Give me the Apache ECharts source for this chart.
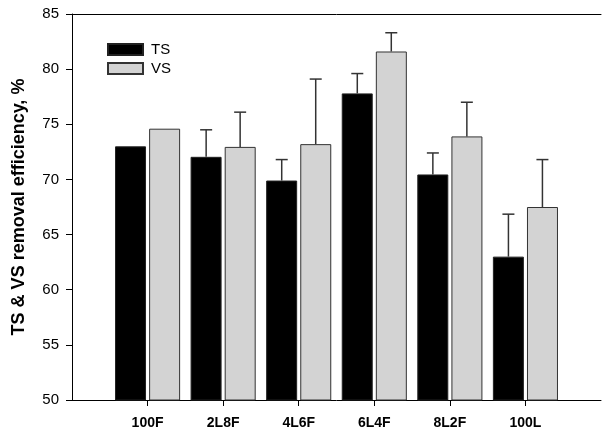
<!DOCTYPE html>
<html>
<head>
<meta charset="utf-8">
<script src="https://cdn.jsdelivr.net/npm/echarts@6/dist/echarts.min.js"></script>
<style>
  html, body { margin: 0; padding: 0; background: #fff; }
  #chart { width: 604px; height: 432px; }
</style>
</head>
<body>
<div id="chart"></div>
<script>
// data
const categories = ['100F', '2L8F', '4L6F', '6L4F', '8L2F', '100L']
const tsValues = [73.0, 72.05, 69.9, 77.8, 70.45, 63.0]
const vsValues = [74.6, 72.95, 73.2, 81.6, 73.9, 67.5]
// upper end of the error bars (null = no bar)
const tsErrTop = [null, 74.5, 71.8, 79.6, 72.4, 66.85]
const vsErrTop = [null, 76.1, 79.1, 83.3, 77.0, 71.8]
const yTicks = [50, 55, 60, 65, 70, 75, 80, 85]

function drawChart() {
    let box = document.querySelector('#chart')
    let myChart = echarts.init(box)

    // pad with an empty slot at each end so the groups sit like the original
    let xData = [''].concat(categories, [''])
    let pad = arr => [null].concat(arr, [null])

    const barW = 31
    const barShift = 17

    let errData = []
    categories.forEach((c, i) => {
        if (tsErrTop[i] != null) errData.push([i + 1, tsValues[i], tsErrTop[i], -1])
        if (vsErrTop[i] != null) errData.push([i + 1, vsValues[i], vsErrTop[i], 1])
    })

    let font = 'Liberation Sans, Arial, sans-serif'

    let option = {
        animation: false,
        grid: { left: 72, right: 0, top: 14, bottom: 32 },
        legend: {
            data: ['TS', 'VS'],
            orient: 'vertical',
            left: 107,
            top: 42,
            padding: 0,
            itemWidth: 35,
            itemHeight: 11,
            itemGap: 4,
            icon: 'rect',
            textStyle: { fontFamily: font, fontSize: 15, color: '#000', padding: [0, 0, 0, 3] }
        },
        xAxis: [
            {
                type: 'category',
                data: xData,
                boundaryGap: false,
                axisLine: { lineStyle: { color: '#000', width: 1 } },
                axisTick: {
                    length: 6,
                    lineStyle: { color: '#000' },
                    interval: (idx, val) => val !== ''
                },
                axisLabel: {
                    interval: 0,
                    margin: 16,
                    fontFamily: font,
                    fontSize: 14,
                    fontWeight: 'bold',
                    color: '#000'
                },
                splitLine: { show: false }
            },
            {
                type: 'category',
                position: 'top',
                data: xData,
                boundaryGap: false,
                axisLine: { lineStyle: { color: '#000', width: 1 } },
                axisTick: { show: false },
                axisLabel: { show: false }
            }
        ],
        yAxis: {
            type: 'value',
            min: yTicks[0],
            max: yTicks[yTicks.length - 1],
            interval: 5,
            name: 'TS & VS removal efficiency, %',
            nameLocation: 'middle',
            nameGap: 44,
            nameTextStyle: { fontFamily: font, fontSize: 18, fontWeight: 'bold', color: '#000' },
            axisLine: { show: true, lineStyle: { color: '#000', width: 1 } },
            axisTick: { show: true, length: 6, lineStyle: { color: '#000' } },
            axisLabel: { margin: 13, fontFamily: font, fontSize: 15, color: '#000' },
            splitLine: { show: false }
        },
        series: [
            {
                name: 'TS',
                type: 'bar',
                data: pad(tsValues),
                barWidth: barW,
                barGap: '10%',
                itemStyle: { color: '#000', borderColor: '#222', borderWidth: 1 }
            },
            {
                name: 'VS',
                type: 'bar',
                data: pad(vsValues),
                barWidth: barW,
                barGap: '10%',
                itemStyle: { color: '#d3d3d3', borderColor: '#333', borderWidth: 1 }
            },
            {
                // error bars, upper half only
                name: 'err',
                type: 'custom',
                data: errData,
                z: 3,
                renderItem: function (params, api) {
                    let top = api.coord([api.value(0), api.value(2)])
                    let bottom = api.coord([api.value(0), api.value(1)])
                    let x = top[0] + api.value(3) * barShift
                    let style = { stroke: '#333', lineWidth: 1.5 }
                    return {
                        type: 'group',
                        children: [
                            { type: 'line', shape: { x1: x, y1: bottom[1], x2: x, y2: top[1] }, style: style },
                            { type: 'line', shape: { x1: x - 6, y1: top[1], x2: x + 6, y2: top[1] }, style: style }
                        ]
                    }
                }
            }
        ]
    }
    myChart.setOption(option)
}
drawChart()
</script>
</body>
</html>
